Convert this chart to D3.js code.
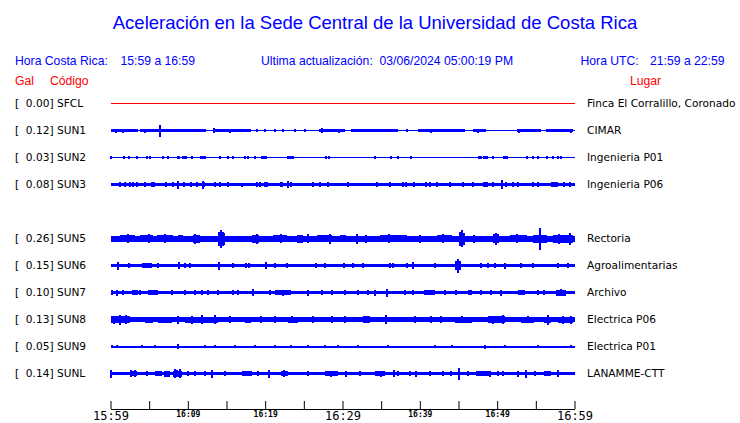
<!DOCTYPE html>
<html><head><meta charset="utf-8">
<script src="https://cdn.jsdelivr.net/npm/d3@7/dist/d3.min.js"></script>
<style>
body{margin:0;background:#fff;}
svg{display:block;}
text{white-space:pre;}
</style></head>
<body>
<svg id="c" width="740" height="423"></svg>
<script>
// ---- data ----
const title = "Aceleración en la Sede Central de la Universidad de Costa Rica";
const codes  = ["SFCL","SUN1","SUN2","SUN3","SUN5","SUN6","SUN7","SUN8","SUN9","SUNL"];
const rowSlot = [0,1,2,3,5,6,7,8,9,10];
const gal    = [0.00,0.12,0.03,0.08,0.26,0.15,0.10,0.13,0.05,0.14];
const places = ["Finca El Corralillo, Coronado","CIMAR","Ingenieria P01","Ingenieria P06","Rectoria","Agroalimentarias","Archivo","Electrica P06","Electrica P01","LANAMME-CTT"];
const baseAmp = [0.5,0.5,0.5,1.5,3,1.5,1.5,2.5,1,1.5];
const tickLabels = ["15:59","16:09","16:19","16:29","16:39","16:49","16:59"];
const majorLabels = ["15:59","16:29","16:59"];

// segments: [startMin, endMin, halfAmp]; spikes: [min, halfAmp]
const segSFCL = [], spkSFCL = [];
const segSUN1 = [[0,3.6,1.5],[3.8,6.3,1.5],[6.5,12.4,1.5],[13.5,18.2,1.5],[26.9,30.3,1.5],[31.1,37.2,1.5],[39.8,45.8,1.5],[46.9,48.6,1.5],[52.5,55.7,1.5],[56.3,59.8,1.5]];
const spkSUN1 = [[0.7,2],[1.6,2],[4.4,2],[6.4,6],[13.4,2.5],[15.4,2],[18.9,1.5],[20,1.5],[21.3,1.5],[22.3,1.5],[23.8,1.5],[25.2,1.5],[27.4,2.5],[29.6,2],[38.3,1.5],[41.4,2],[44.6,1.5],[47.5,2],[52.8,2],[57.5,1.5],[59.6,2]];
const segSUN2 = [[8.55,8.98,1.5],[9.28,9.84,1.5],[11.56,12.4,1.5],[19.4,20.2,1.5],[22.8,23.75,1.5],[47.5,48,1.5],[48.2,48.8,1.5],[50.8,51.4,1.5]];
const spkSUN2 = [[0.07,1.5],[1.79,1.5],[2.39,1.5],[3.47,1.5],[4.76,1.5],[5.1,1.5],[6.74,1.5],[7.47,1.5],[10.6,1.5],[14.15,1.5],[15.2,1.5],[15.9,1.5],[17.4,1.5],[17.8,1.5],[18.7,1.5],[27.9,1.5],[28.2,1.5],[34.2,1.5],[36.3,1.5],[37.2,1.5],[38.9,1.5],[49.5,1.5],[53.8,1.5],[54.6,1.5],[55.3,1.5],[56.4,1.5],[57.2,1.5],[57.9,1.5],[58.2,1.5]];
const segSUN3 = [[11.86,12.2,2.5],[48.2,48.8,2.5],[57,57.9,2.5]];
const spkSUN3 = [[1.23,2.5],[1.87,2.5],[2.52,2.5],[2.95,2.5],[3.38,2.5],[4.46,2.5],[5.32,2.5],[5.62,2.5],[7.17,2.5],[8.12,2.5],[8.76,4],[9.5,2.5],[10.4,2.5],[11.13,2.5],[11.9,4],[13.5,2.5],[14.15,2.5],[15.2,2.5],[16.95,2],[18.9,2.5],[19.3,2.5],[19.96,2.5],[20.26,2.5],[22,2.5],[22.24,2.5],[22.9,3.5],[23.4,2.5],[26.2,2.5],[27.07,2.5],[28.1,2.5],[30.7,2.5],[34.5,2.5],[36.1,2.5],[37.8,2.5],[38.26,2.5],[39.25,2.5],[40.85,2.5],[41.3,2.5],[42.2,2.5],[43.9,2.5],[45.6,2.5],[46.9,2.5],[49.5,2.5],[50.6,4.5],[51.2,2.5],[52.05,2.5],[52.7,2.5],[54.6,2.5],[55.3,2.5],[58.7,2.5],[59.4,2.5]];
const segSUN5 = [[1.2,3.2,3.5],[3.8,5.5,3.5],[6,8.1,3.5],[8.7,9.4,3.5],[10.7,11.6,4],[14.1,14.8,6],[18.3,19.2,4],[21,22.8,3.5],[24.1,24.9,4],[26.7,28.7,3.5],[29.65,30.5,3.5],[34.8,38.3,3.5],[42.2,44.2,3.5],[45.15,45.8,6],[49.4,50.3,4.5],[51.6,53.8,3.5],[54.6,56.4,4],[57.2,59.8,4]];
const spkSUN5 = [[14.3,9],[14.0,7],[14.6,7],[28.4,5],[31.9,5],[45.4,8.5],[45.2,7],[49.8,6],[55.6,11],[59.4,6],[2.2,4.5],[5,4.5],[7,4.5],[10.9,5],[19,5],[22,4.5],[25.5,4.5],[33,4],[36,4.5],[40,4],[43,4.5],[47,4],[52.5,4.5],[58,5]];
const segSUN6 = [[4.11,5.32,2.5]];
const spkSUN6 = [[1.01,4],[2.39,2.5],[6.18,2.5],[8.85,3.5],[9.63,2.5],[10.27,2.5],[14.02,4],[15.8,2.5],[17.46,2.5],[17.9,2.5],[20.1,3.5],[21.25,2.5],[22.76,2.5],[26.55,2.5],[27.7,2.5],[30.2,2.5],[31.4,2.5],[32.7,2.5],[36.1,2.5],[36.5,2.5],[38.3,2.5],[39.1,3.5],[41.9,2.5],[44.94,7],[44.7,4.5],[45.2,4.5],[47.95,2.5],[48.8,2.5],[49.7,2.5],[50.97,3],[53.1,2.5],[54.6,2.5],[57.86,2.5],[59.15,2.5]];
const segSUN7 = [[2.74,3.6,2.5],[4.9,6.2,2.5],[21.25,23.4,2.5],[40.6,41.9,2.5],[46.2,46.7,2.5],[52.7,53.55,2.5],[57.6,58.9,3]];
const spkSUN7 = [[0.15,2.5],[0.8,3],[1.66,2.5],[3.8,2.5],[7.9,2.5],[9.6,2.5],[10.9,2.5],[11.8,2.5],[12.6,2.5],[13.9,2.5],[15.9,2.5],[16.5,2.5],[18.45,3.5],[20.6,2.5],[22.3,3],[25.6,3],[27.3,2.5],[28.6,2.5],[30.3,2.5],[32,2.5],[33.3,2.5],[34.2,3],[35.7,4],[38.05,2.5],[39.1,2.5],[43.2,2.5],[44.7,2.5],[47.95,2.5],[49.25,2.5],[50.5,3],[55.3,2.5],[56.1,2.5],[58.2,3.5]];
const segSUN8 = [[0,2.52,3.5],[4.46,5.53,3],[6.18,7.9,3],[9.63,13.93,3],[17.4,18.2,3],[22.97,24.27,3],[32.7,33.5,3.5],[44.5,46.7,3],[48.8,50.97,3.5],[53.1,54.8,3],[56.1,57,3],[57.9,59.8,3]];
const spkSUN8 = [[1.23,5],[0.5,4],[2,4.5],[8.76,4],[11.78,4.5],[13.5,4.5],[10.5,4],[15.44,3.5],[19.5,3.5],[21.25,3.5],[23.5,3.5],[26.2,3.5],[28.6,3.5],[30.3,3.5],[33,3.5],[35.68,4.5],[39.34,3.5],[41.5,3.5],[42.8,3.5],[45.5,3.5],[50.75,4.5],[49.5,4],[54,3.5],[56.6,5],[58.5,4],[59.5,4]];
const segSUN9 = [];
const spkSUN9 = [[0.15,1.5],[0.8,1.5],[4.03,1.5],[5.75,1.5],[8.76,2.5],[12.2,1.5],[13.5,1.5],[16.1,1.5],[18.7,1.5],[21.25,1.5],[23.4,1.5],[25.6,1.5],[27.7,1.5],[29.4,1.5],[32,1.5],[35.9,1.5],[41.9,1.5],[44.1,1.5],[48.4,2],[51,1.5],[55.3,1.5],[59.6,1.5]];
const segSUNL = [[2.52,3.38,2.5],[5.75,6.6,2.5],[6.96,7.69,3],[8.12,9.2,3],[16.95,18.24,2.5],[22.1,22.9,2.5],[27.7,29.4,2.5],[34.2,35.5,2.5],[47.3,49.25,2.5],[56.1,57,2.5]];
const spkSUNL = [[0.07,4],[2.7,3.5],[3.2,3.5],[4.67,2.5],[8.33,4.5],[8.98,4.5],[8.6,3.5],[10.06,2.5],[10.92,2.5],[12.2,2.5],[13.07,4],[14.79,2.5],[19.1,2.5],[20.5,4],[22.46,3.5],[25.56,2.5],[28.5,3],[30.5,3],[32.2,2.5],[35,3],[36.67,3.5],[37.2,2.5],[38.7,2.5],[39.56,3],[41.27,2.5],[43,2.5],[44.08,2.5],[45.07,6],[46.23,2.5],[49.03,3],[50.1,2.5],[50.75,2.5],[52.7,3],[53.77,4],[54.85,2.5],[57.86,3.5]];

const segments = [segSFCL,segSUN1,segSUN2,segSUN3,segSUN5,segSUN6,segSUN7,segSUN8,segSUN9,segSUNL];
const spikes   = [spkSFCL,spkSUN1,spkSUN2,spkSUN3,spkSUN5,spkSUN6,spkSUN7,spkSUN8,spkSUN9,spkSUNL];

// ---- drawing ----
const svg = d3.select("#c");
const BLUE = "#0000ff", RED = "#ff0000";
const t0 = new Date(2024,2,6,15,59,0), t1 = new Date(2024,2,6,16,59,0);
const minToDate = m => new Date(t0.getTime() + m*60000);
const x = d3.scaleTime().domain([t0,t1]).range([110.5,574.5]);
const yRow = d3.scaleLinear().domain([0,10]).range([103.5,373.5]);
const amp = d3.scaleLinear().domain([0,12]).range([0,12]);

svg.append("text").attr("x",375).attr("y",29).attr("text-anchor","middle")
  .attr("font-family","Liberation Sans, Arial, sans-serif").attr("font-size",18.5).attr("fill",BLUE).text(title);

const hdr = (tx,xx,yy,col,anchor) => svg.append("text").attr("x",xx).attr("y",yy)
  .attr("font-family","Liberation Sans, Arial, sans-serif").attr("font-size",12.2)
  .attr("fill",col).attr("text-anchor",anchor||"start").text(tx);
hdr("Hora Costa Rica:",15,65,BLUE);
hdr("15:59 a 16:59",120.5,65,BLUE);
hdr("Ultima actualización:  03/06/2024 05:00:19 PM",261,65,BLUE);
hdr("Hora UTC:",580.5,65,BLUE);
hdr("21:59 a 22:59",650,65,BLUE);
hdr("Gal",15,85,RED);
hdr("Código",50,85,RED);
hdr("Lugar",630,85,RED);

codes.forEach((code,i) => {
  const cy = yRow(rowSlot[i]);
  const col = code === "SFCL" ? RED : BLUE;
  const g = svg.append("g").attr("shape-rendering","crispEdges");
  svg.append("text").attr("x",15).attr("y",cy+3.5)
    .attr("font-family","DejaVu Sans, sans-serif").attr("font-size",10.6).attr("fill","#000")
    .text("[  " + gal[i].toFixed(2) + "] " + code);
  svg.append("text").attr("x",587).attr("y",cy+3.5)
    .attr("font-family","DejaVu Sans, sans-serif").attr("font-size",10.6).attr("fill","#000")
    .text(places[i]);
  g.append("rect").attr("x",x(t0)).attr("width",x(t1)-x(t0))
    .attr("y",cy-amp(baseAmp[i])).attr("height",2*amp(baseAmp[i])).attr("fill",col);
  g.selectAll("rect.seg").data(segments[i]).enter().append("rect").attr("class","seg")
    .attr("x",d=>x(minToDate(d[0]))).attr("width",d=>x(minToDate(d[1]))-x(minToDate(d[0])))
    .attr("y",d=>cy-amp(d[2])).attr("height",d=>2*amp(d[2])).attr("fill",col);
  g.selectAll("rect.spk").data(spikes[i]).enter().append("rect").attr("class","spk")
    .attr("x",d=>Math.round(x(minToDate(d[0])))-1).attr("width",2)
    .attr("y",d=>cy-amp(d[1])).attr("height",d=>2*amp(d[1])).attr("fill",col);
});

// axis
const tickDates = d3.range(0,61,5).map(minToDate);
const fmt = d3.timeFormat("%H:%M");
const axis = d3.axisBottom(x).tickValues(tickDates).tickSizeInner(-8).tickSizeOuter(0).tickPadding(4)
  .tickFormat(d => { const s = fmt(d); return tickLabels.includes(s) && ((d - t0)/60000) % 10 === 0 ? s : ""; });
const ag = svg.append("g").attr("transform","translate(0,409)").call(axis);
ag.select(".domain").attr("stroke","#000");
ag.selectAll(".tick line").attr("stroke","#000");
ag.selectAll(".tick text").attr("fill","#000")
  .attr("font-family","DejaVu Sans Mono, monospace")
  .each(function(){
    const s = d3.select(this).text();
    const major = majorLabels.includes(s);
    d3.select(this).attr("font-size", major ? 12 : 8)
      .attr("font-weight", major ? "normal" : "bold")
      .attr("dy", major ? "0.7em" : "0.75em")
      .attr("y", major ? 3 : 2);
  });
</script>
</body></html>
